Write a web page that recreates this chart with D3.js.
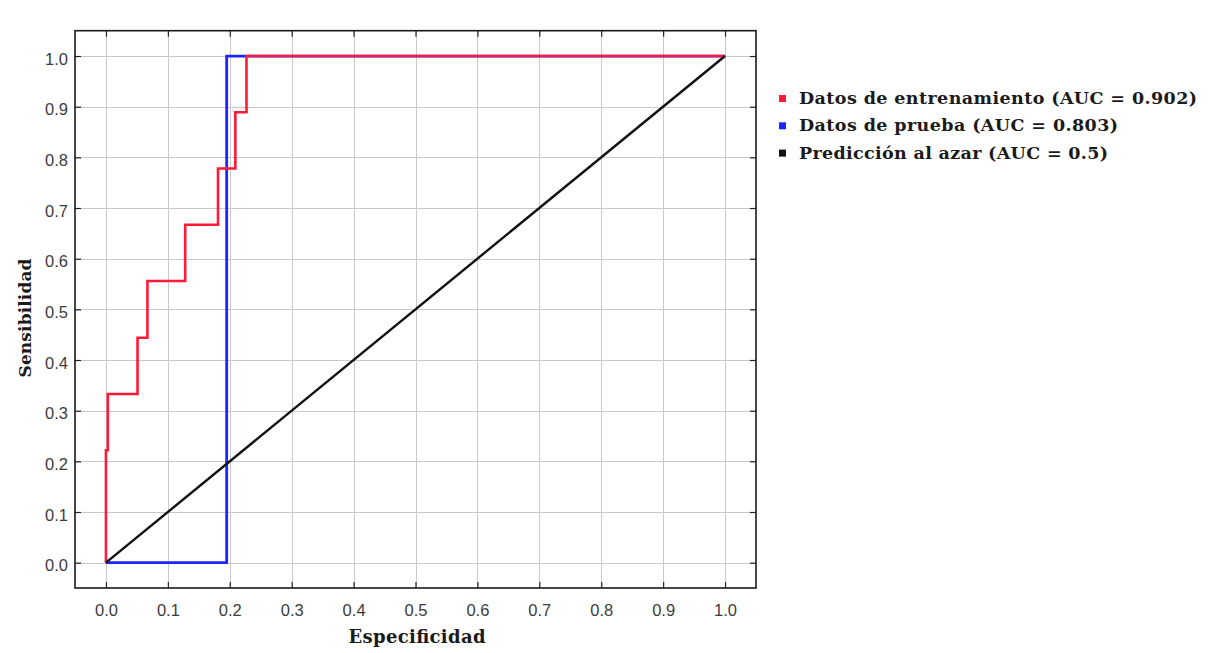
<!DOCTYPE html>
<html>
<head>
<meta charset="utf-8">
<script src="https://cdn.jsdelivr.net/npm/d3@7/dist/d3.min.js"></script>
<style>
  html, body { margin: 0; padding: 0; background: #ffffff; }
  svg { display: block; }
</style>
</head>
<body>
<svg id="chart" width="1212" height="653"></svg>
<script>
// ROC curves: 1 - specificity on x, sensitivity on y
const xTicks = [0, 0.1, 0.2, 0.3, 0.4, 0.5, 0.6, 0.7, 0.8, 0.9, 1.0];
const yTicks = [0, 0.1, 0.2, 0.3, 0.4, 0.5, 0.6, 0.7, 0.8, 0.9, 1.0];

// training set curve (step points)
const trainX = [0, 0, 0.003, 0.003, 0.051, 0.051, 0.067, 0.067, 0.128, 0.128, 0.181, 0.181, 0.209, 0.209, 0.227, 0.227, 1.0];
const trainY = [0, 0.222, 0.222, 0.333, 0.333, 0.444, 0.444, 0.556, 0.556, 0.667, 0.667, 0.778, 0.778, 0.889, 0.889, 1.0, 1.0];

// test set curve
const testX = [0, 0.195, 0.195, 1.0];
const testY = [0, 0, 1.0, 1.0];

// random classifier reference line
const chanceX = [0, 1.0];
const chanceY = [0, 1.0];

const legendLabels = [
  "Datos de entrenamiento (AUC = 0.902)",
  "Datos de prueba (AUC = 0.803)",
  "Predicción al azar (AUC = 0.5)"
];
const legendColors = ["#ff1a38", "#1c24ff", "#111111"];
const legendWidths = [398, 319, 309];

const xTitle = "Especificidad";
const yTitle = "Sensibilidad";

const svg = d3.select("#chart");

const plotLeft = 75, plotRight = 756, plotTop = 30.7, plotBottom = 588;
const x = d3.scaleLinear().domain([-0.05, 1.05]).range([plotLeft, plotRight]);
const y = d3.scaleLinear().domain([-0.05, 1.05]).range([plotBottom, plotTop]);

// grid
const grid = svg.append("g").attr("stroke", "#c9c9c9").attr("stroke-width", 1);
grid.selectAll("line.gx").data(xTicks).join("line")
  .attr("class", "gx")
  .attr("x1", d => Math.round(x(d)) + 0.5).attr("x2", d => Math.round(x(d)) + 0.5)
  .attr("y1", plotTop).attr("y2", plotBottom);
grid.selectAll("line.gy").data(yTicks).join("line")
  .attr("class", "gy")
  .attr("y1", d => Math.round(y(d)) + 0.5).attr("y2", d => Math.round(y(d)) + 0.5)
  .attr("x1", plotLeft).attr("x2", plotRight);

const fmt = d3.format(".1f");

function styleAxis(g) {
  g.select(".domain").remove();
  g.selectAll(".tick line").attr("stroke", "#222").attr("stroke-width", 1.2);
  g.selectAll(".tick text")
    .attr("fill", "#3c3c3c")
    .attr("font-family", "'Liberation Sans', Arial, sans-serif")
    .attr("font-size", "16.5px");
}

svg.append("g").attr("transform", `translate(0,${plotBottom})`)
  .call(d3.axisBottom(x).tickValues(xTicks).tickFormat(fmt).tickSizeInner(-6).tickSizeOuter(0).tickPadding(16))
  .call(styleAxis);
svg.append("g").attr("transform", `translate(${plotLeft},0)`)
  .call(d3.axisLeft(y).tickValues(yTicks).tickFormat(fmt).tickSizeInner(-6).tickSizeOuter(0).tickPadding(7))
  .call(styleAxis)
  .selectAll(".tick text").attr("dy", "0.5em");
svg.append("g").attr("transform", `translate(0,${plotTop})`)
  .call(d3.axisTop(x).tickValues(xTicks).tickFormat("").tickSizeInner(-6).tickSizeOuter(0))
  .call(styleAxis);
svg.append("g").attr("transform", `translate(${plotRight},0)`)
  .call(d3.axisRight(y).tickValues(yTicks).tickFormat("").tickSizeInner(-6).tickSizeOuter(0))
  .call(styleAxis);

// plot frame
svg.append("rect")
  .attr("x", plotLeft).attr("y", plotTop)
  .attr("width", plotRight - plotLeft).attr("height", plotBottom - plotTop)
  .attr("fill", "none").attr("stroke", "#1a1a1a").attr("stroke-width", 1.6);

const line = d3.line().x(d => x(d[0])).y(d => y(d[1]));

const series = [
  { xs: testX, ys: testY, color: legendColors[1], w: 2.8 },
  { xs: trainX, ys: trainY, color: legendColors[0], w: 2.6 },
  { xs: chanceX, ys: chanceY, color: legendColors[2], w: 2.4 }
];
series.forEach(s => {
  svg.append("path")
    .datum(d3.zip(s.xs, s.ys))
    .attr("d", line)
    .attr("fill", "none")
    .attr("stroke", s.color)
    .attr("stroke-width", s.w)
    .attr("stroke-linejoin", "miter");
});

// axis titles
svg.append("text")
  .attr("x", 417).attr("y", 643)
  .attr("text-anchor", "middle")
  .attr("font-family", "'DejaVu Serif', serif")
  .attr("font-weight", "bold")
  .attr("font-size", "18px")
  .attr("fill", "#1a1a1a")
  .attr("textLength", 137)
  .text(xTitle);

svg.append("text")
  .attr("transform", "translate(31,318) rotate(-90)")
  .attr("text-anchor", "middle")
  .attr("font-family", "'DejaVu Serif', serif")
  .attr("font-weight", "bold")
  .attr("font-size", "17px")
  .attr("fill", "#1a1a1a")
  .attr("textLength", 119)
  .text(yTitle);

// legend
const legend = svg.append("g");
legendLabels.forEach((label, i) => {
  const by = 104 + i * 27.3;
  legend.append("rect")
    .attr("x", 779).attr("y", by - 9)
    .attr("width", 7).attr("height", 7)
    .attr("fill", legendColors[i]);
  legend.append("text")
    .attr("x", 799).attr("y", by)
    .attr("font-family", "'DejaVu Serif', serif")
    .attr("font-weight", "bold")
    .attr("font-size", "17.5px")
    .attr("fill", "#1a1a1a")
    .attr("textLength", legendWidths[i])
    .text(label);
});
</script>
</body>
</html>
